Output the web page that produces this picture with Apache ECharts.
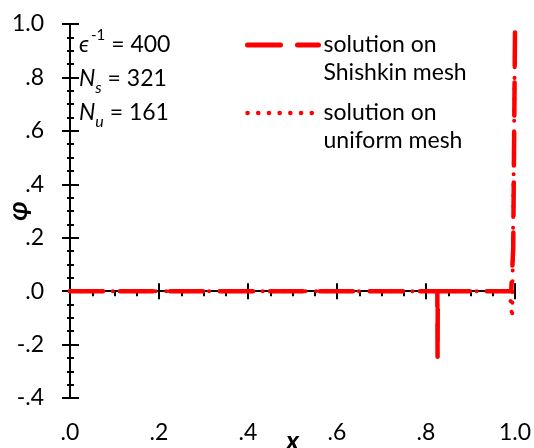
<!DOCTYPE html>
<html>
<head>
<meta charset="utf-8">
<script src="https://cdn.jsdelivr.net/npm/echarts@6/dist/echarts.min.js"></script>
<style>html,body{margin:0;padding:0;background:#fff}#c{width:534px;height:448px}</style>
</head>
<body>
<div id="c"></div>
<script>
// ---- data ----
var shishkinX = [0, 0.8255, 0.826, 0.8265, 0.9915, 0.996, 1.0];
var shishkinY = [0, 0, -0.25, 0, 0, 0.16, 0.97];
var uniformX = [0, 0.9875, 0.99375, 1.0];
var uniformY = [0, 0, -0.10, 0.97];
var xTickValues = [0, 0.2, 0.4, 0.6, 0.8, 1.0];
var xTickLabels = ['.0', '.2', '.4', '.6', '.8', '1.0'];
var yTickValues = [-0.4, -0.2, 0, 0.2, 0.4, 0.6, 0.8, 1.0];
var yTickLabels = ['-.4', '-.2', '.0', '.2', '.4', '.6', '.8', '1.0'];
var seriesNames = ['Shishkin', 'uniform'];
var legendLabels = ['solution on\nShishkin mesh', 'solution on\nuniform mesh'];

function pair(xs, ys) { return xs.map(function (x, i) { return [x, ys[i]]; }); }
function lookup(vals, labels) {
  return function (v) {
    for (var i = 0; i < vals.length; i++) if (Math.abs(vals[i] - v) < 1e-9) return labels[i];
    return '';
  };
}

var FONT = 'Lato';
var FS = 23;
var chart = echarts.init(document.getElementById('c'), null, { renderer: 'canvas' });
var black = '#000';
var red = '#ff0000';

var option = {
  animation: false,
  backgroundColor: '#fff',
  textStyle: { fontFamily: FONT },
  grid: { left: 70, right: 19, top: 24, bottom: 50, containLabel: false, outerBoundsMode: 'none' },
  title: {
    left: 79, top: 28, padding: 0,
    text: '{i|ϵ}{sup|-1}{n| = 400}\n{i|N}{sub|s}{n| = 321}\n{i|N}{sub|u}{n| = 161}',
    textStyle: {
      fontFamily: FONT, color: black, fontSize: FS, fontWeight: 'normal', lineHeight: 34,
      rich: {
        i: { fontFamily: FONT, fontSize: FS, fontStyle: 'italic', color: black, lineHeight: 34 },
        n: { fontFamily: FONT, fontSize: FS, color: black, lineHeight: 34 },
        sup: { fontFamily: FONT, fontSize: 15, color: black, lineHeight: 34, verticalAlign: 'top', padding: [0, 0, 12, 2] },
        sub: { fontFamily: FONT, fontSize: 16, fontStyle: 'italic', color: black, lineHeight: 34, verticalAlign: 'bottom', padding: [10, 0, 0, 0] }
      }
    }
  },
  legend: {
    orient: 'vertical', left: 245, top: 3, padding: 0,
    itemWidth: 71, itemHeight: 14, itemGap: -16,
    selectedMode: false,
    data: [
      { name: seriesNames[0], lineStyle: { width: 5 } },
      { name: seriesNames[1], lineStyle: { width: 4.5 } }
    ],
    formatter: function (name) { return '\n' + legendLabels[seriesNames.indexOf(name)]; },
    textStyle: { fontFamily: FONT, fontSize: FS, color: black, lineHeight: 28 },
    itemStyle: { opacity: 0 }
  },
  xAxis: [
    {
      type: 'value', min: 0, max: 1, interval: 0.2, position: 'bottom',
      axisLine: { show: false, onZero: false }, axisTick: { show: false }, splitLine: { show: false },
      axisLabel: { color: black, fontSize: FS, fontFamily: FONT, margin: 23, formatter: lookup(xTickValues, xTickLabels) },
      name: 'x', nameLocation: 'middle', nameGap: 30, nameMoveOverlap: false,
      nameTextStyle: { fontFamily: FONT, fontSize: 27, fontWeight: 'bold', fontStyle: 'italic', color: black }
    },
    {
      type: 'value', min: 0, max: 1, interval: 0.2, position: 'bottom',
      axisLine: { show: true, onZero: true, onZeroAxisIndex: 0, lineStyle: { color: black, width: 2 } },
      axisTick: { show: true, length: 8, lineStyle: { color: black, width: 2 } },
      minorTick: { show: true, splitNumber: 4, length: 5, lineStyle: { color: black, width: 2 } },
      axisLabel: { show: false }, splitLine: { show: false }
    },
    {
      type: 'value', min: 0, max: 1, interval: 0.2, position: 'top',
      axisLine: { show: false, onZero: true, onZeroAxisIndex: 0 },
      axisTick: { show: true, length: 8, lineStyle: { color: black, width: 2 } },
      axisLabel: { show: false }, splitLine: { show: false }
    }
  ],
  yAxis: [
    {
      type: 'value', min: -0.4, max: 1, interval: 0.2, position: 'left',
      axisLine: { show: true, onZero: false, lineStyle: { color: black, width: 2 } },
      axisTick: { show: true, length: 8, lineStyle: { color: black, width: 2 } },
      minorTick: { show: true, splitNumber: 4, length: 3, lineStyle: { color: black, width: 2 } },
      splitLine: { show: false },
      axisLabel: { color: black, fontSize: FS, fontFamily: FONT, margin: 26, formatter: lookup(yTickValues, yTickLabels) },
      name: 'φ', nameLocation: 'middle', nameGap: 38, nameRotate: 90, nameMoveOverlap: false,
      nameTextStyle: { fontFamily: FONT, fontSize: 27, fontWeight: 'bold', fontStyle: 'italic', color: black }
    },
    {
      type: 'value', min: -0.4, max: 1, interval: 0.2, position: 'left',
      axisLine: { show: false, onZero: false },
      axisTick: { show: true, inside: true, length: 9, lineStyle: { color: black, width: 2 } },
      minorTick: { show: true, splitNumber: 4, length: 4, lineStyle: { color: black, width: 2 } },
      splitLine: { show: false }, axisLabel: { show: false }
    }
  ],
  series: [
    {
      name: seriesNames[0], type: 'line', xAxisIndex: 0, yAxisIndex: 0,
      data: pair(shishkinX, shishkinY), symbol: 'none', z: 3,
      lineStyle: { color: red, width: 4.5, type: [33, 17], cap: 'round', join: 'round' },
      itemStyle: { color: red }
    },
    {
      name: seriesNames[1], type: 'line', xAxisIndex: 0, yAxisIndex: 0,
      data: pair(uniformX, uniformY), symbol: 'none', z: 4,
      lineStyle: { color: red, width: 4, type: [0.1, 10.6], cap: 'round', join: 'round' },
      itemStyle: { color: red }
    }
  ]
};
chart.setOption(option);
</script>
</body>
</html>
